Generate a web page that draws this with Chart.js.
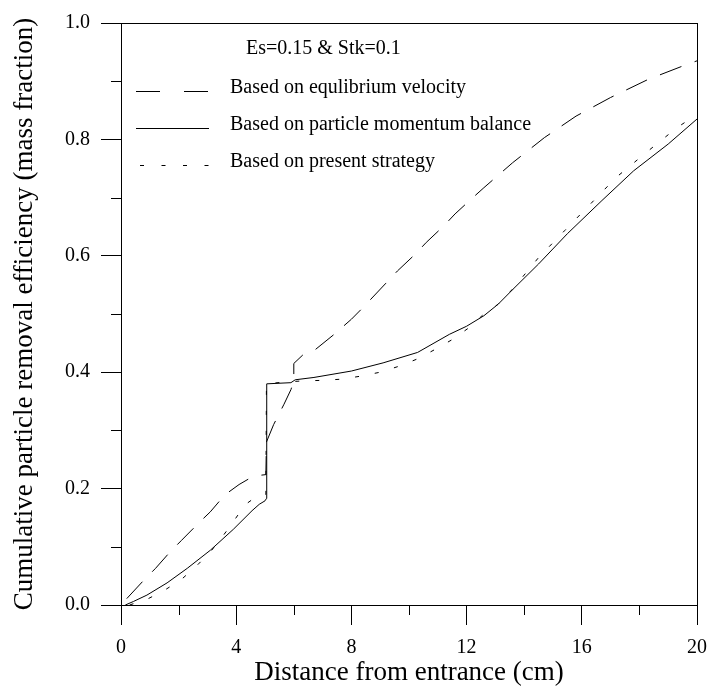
<!DOCTYPE html>
<html>
<head>
<meta charset="utf-8">
<script src="https://cdn.jsdelivr.net/npm/chart.js@4/dist/chart.umd.min.js"></script>
<style>
body { margin: 0; background: #fff; }
</style>
</head>
<body>
<canvas id="myChart" width="718" height="689"></canvas>
<script>
// values
const equilX = [0.2, 0.8, 1.2, 1.7, 2.1, 2.7, 3.1, 3.6, 4.1, 4.55, 4.85, 5.03, 5.05, 5.3, 5.66, 5.9, 6.0, 6.0, 6.3, 6.7, 7.4, 8.0, 8.4, 9.2, 9.6, 10.2, 10.6, 11.2, 11.6, 12.15, 12.6, 13.6, 14.7, 15.8, 17.0, 18.3, 19.5, 20];
const equilY = [0.011, 0.043, 0.063, 0.091, 0.111, 0.141, 0.160, 0.189, 0.207, 0.220, 0.223, 0.224, 0.28, 0.31, 0.345, 0.37, 0.385, 0.415, 0.429, 0.437, 0.465, 0.491, 0.511, 0.553, 0.574, 0.602, 0.623, 0.651, 0.672, 0.697, 0.717, 0.760, 0.803, 0.840, 0.872, 0.903, 0.926, 0.935];

const momentumX = [0.15, 0.43, 0.9, 1.6, 2.3, 3.1, 3.9, 4.55, 4.8, 5.0, 5.05, 5.06, 5.9, 6.05, 6.7, 8.0, 9.1, 10.3, 11.4, 12.0, 12.6, 13.1, 13.6, 14.5, 15.5, 16.7, 17.8, 19.0, 20];
const momentumY = [0, 0.006, 0.017, 0.038, 0.063, 0.094, 0.130, 0.162, 0.173, 0.179, 0.183, 0.380, 0.382, 0.387, 0.391, 0.402, 0.416, 0.434, 0.465, 0.479, 0.497, 0.517, 0.542, 0.586, 0.638, 0.695, 0.746, 0.792, 0.835];

const presentX = [0.3, 0.95, 1.5, 2.1, 2.6, 3.1, 3.5, 3.9, 4.3, 4.75, 5.0, 5.03, 5.05, 5.65, 6.3, 7.0, 7.65, 8.3, 9.0, 9.7, 10.3, 10.9, 11.5, 12.1, 12.6, 13.1, 13.6, 14.5, 15.4, 16.3, 17.2, 18.3, 19.3, 20];
const presentY = [0.0, 0.011, 0.025, 0.044, 0.066, 0.091, 0.116, 0.143, 0.172, 0.188, 0.190, 0.190, 0.380, 0.383, 0.385, 0.386, 0.388, 0.393, 0.400, 0.411, 0.423, 0.439, 0.456, 0.477, 0.5, 0.517, 0.543, 0.597, 0.643, 0.689, 0.735, 0.780, 0.820, 0.843];

const seriesNames = ['Based on equlibrium velocity', 'Based on particle momentum balance', 'Based on present strategy'];
const noteText = 'Es=0.15 & Stk=0.1';
const xTitle = 'Distance from entrance (cm)';
const yTitle = 'Cumulative particle removal efficiency (mass fraction)';

function toPoints(xs, ys) {
    return xs.map((x, i) => ({ x: x, y: ys[i] }));
}

Chart.defaults.font.family = '"Liberation Serif", "Times New Roman", serif';
Chart.defaults.color = '#000';

// short ticks between the labelled ones, plus the box round the plot
const framePlugin = {
    id: 'frame',
    afterDraw(chart) {
        const ctx = chart.ctx;
        const a = chart.chartArea;
        const xs = chart.scales.x;
        const ys = chart.scales.y;
        ctx.save();
        ctx.strokeStyle = '#000';
        ctx.lineWidth = 1;
        ctx.beginPath();
        for (let v = 2; v < 20; v += 4) {
            const px = Math.round(xs.getPixelForValue(v)) + 0.5;
            ctx.moveTo(px, a.bottom);
            ctx.lineTo(px, a.bottom + 10);
        }
        for (let v = 0.1; v < 1; v += 0.2) {
            const py = Math.round(ys.getPixelForValue(v)) + 0.5;
            ctx.moveTo(a.left, py);
            ctx.lineTo(a.left - 10, py);
        }
        ctx.stroke();
        ctx.strokeRect(Math.round(a.left) + 0.5, Math.round(a.top) + 0.5,
            Math.round(a.right - a.left), Math.round(a.bottom - a.top));
        ctx.restore();
    }
};

// legend samples: [start offset, dash pattern]
const legendSamples = [[15, [24, 24]], [15, []], [19, [4, 17.5]]];

const legendPlugin = {
    id: 'innerLegend',
    afterDraw(chart) {
        const ctx = chart.ctx;
        const a = chart.chartArea;
        ctx.save();
        ctx.fillStyle = '#000';
        ctx.strokeStyle = '#000';
        ctx.lineWidth = 1;
        ctx.font = '20px "Liberation Serif"';
        ctx.textBaseline = 'alphabetic';
        ctx.fillText(noteText, a.left + 125, a.top + 31);
        chart.data.datasets.forEach((ds, i) => {
            const y = a.top + 70 + i * 37;
            ctx.beginPath();
            ctx.setLineDash(legendSamples[i][1]);
            ctx.moveTo(a.left + legendSamples[i][0], y - 1.5);
            ctx.lineTo(a.left + 88, y - 1.5);
            ctx.stroke();
            ctx.setLineDash([]);
            ctx.fillText(ds.label, a.left + 109, y);
        });
        ctx.restore();
    }
};

const ctx = document.getElementById('myChart').getContext('2d');
new Chart(ctx, {
    type: 'line',
    data: {
        datasets: [{
            label: seriesNames[0],
            data: toPoints(equilX, equilY),
            borderColor: '#000',
            borderWidth: 1,
            borderDash: [23, 14],
            pointRadius: 0,
            tension: 0
        },
        {
            label: seriesNames[1],
            data: toPoints(momentumX, momentumY),
            borderColor: '#000',
            borderWidth: 1,
            pointRadius: 0,
            tension: 0
        },
        {
            label: seriesNames[2],
            data: toPoints(presentX, presentY),
            borderColor: '#000',
            borderWidth: 1,
            borderDash: [4, 16],
            pointRadius: 0,
            tension: 0
        }]
    },
    options: {
        responsive: false,
        animation: false,
        layout: { padding: { top: 22, right: 14, left: 0, bottom: 0 } },
        plugins: {
            legend: { display: false },
            tooltip: { enabled: false }
        },
        scales: {
            x: {
                type: 'linear',
                min: 0,
                max: 20,
                ticks: { stepSize: 4, font: { size: 20 }, padding: 11, maxRotation: 0 },
                grid: { drawOnChartArea: false, tickLength: 20, color: '#000' },
                border: { color: '#000' },
                title: { display: true, text: xTitle, font: { size: 27 }, padding: { top: 0, bottom: 0 } },
                afterFit(scale) { scale.height = 84; }
            },
            y: {
                min: 0,
                max: 1,
                ticks: { stepSize: 0.2, font: { size: 20 }, padding: 11, callback: v => v.toFixed(1) },
                grid: { drawOnChartArea: false, tickLength: 20, color: '#000' },
                border: { color: '#000' },
                title: { display: true, text: yTitle, font: { size: 27 }, padding: { top: 9, bottom: 0 } },
                afterFit(scale) { scale.width = 121; }
            }
        }
    },
    plugins: [framePlugin, legendPlugin]
});
</script>
</body>
</html>
